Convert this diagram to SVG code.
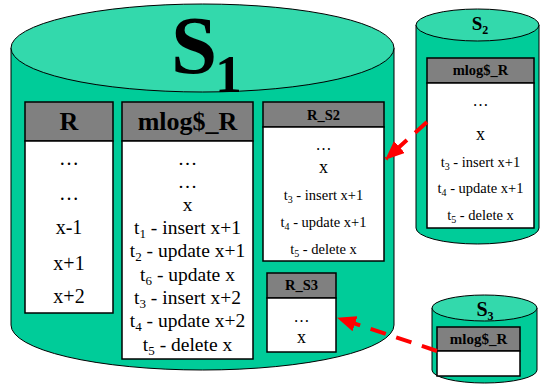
<svg xmlns="http://www.w3.org/2000/svg" width="540" height="385" viewBox="0 0 540 385">
<style>
.side{fill:#00CC99;stroke:#000;stroke-width:1}
.top{fill:#33D9AC;stroke:#000;stroke-width:1}
.hd{fill:#808080;stroke:#000;stroke-width:1.5}
.bd{fill:#fff;stroke:#000;stroke-width:1.5}
text{font-family:"Liberation Serif","Times New Roman",serif;fill:#000;text-anchor:middle}
.b{font-weight:bold}
.arrow{fill:none;stroke:#FF0000;stroke-width:4;stroke-dasharray:16 11;marker-end:url(#ah)}
</style>
<defs>
<marker id="ah" markerUnits="userSpaceOnUse" markerWidth="20" markerHeight="16" refX="18" refY="8" orient="auto">
<path d="M0,0 L19,8 L0,16 Z" fill="#FF0000"/>
</marker>
</defs>
<rect width="540" height="385" fill="#fff"/>

<g id="S1">
<path class="side" d="M11,48 L11,325 A191.5,45 0 0 0 394,325 L394,48 Z"/>
<ellipse class="top" cx="202.5" cy="48" rx="191.5" ry="44"/>
<text class="b" x="171" y="73" font-size="83" style="text-anchor:start">S<tspan font-size="53" dx="-2" dy="19">1</tspan></text>
</g>

<g id="R">
<rect class="hd" x="25" y="102" width="88" height="39"/>
<rect class="bd" x="25" y="141" width="88" height="172"/>
<text class="b" x="69" y="130" font-size="26">R</text>
<text x="69" y="165" font-size="20">…</text>
<text x="69" y="200" font-size="20">…</text>
<text x="69" y="234" font-size="20">x-1</text>
<text x="69" y="270" font-size="20">x+1</text>
<text x="69" y="303" font-size="20">x+2</text>
</g>

<g id="mlog_R">
<rect class="hd" x="122" y="102" width="131" height="39"/>
<rect class="bd" x="122" y="141" width="131" height="218"/>
<text class="b" x="187.5" y="130" font-size="26">mlog$_R</text>
<text x="187.5" y="165" font-size="19.5">…</text>
<text x="187.5" y="188" font-size="19.5">…</text>
<text x="187.5" y="211" font-size="19.5">x</text>
<text x="187.5" y="234" font-size="19.5">t<tspan font-size="13" dy="4">1</tspan><tspan dy="-4"> - insert x+1</tspan></text>
<text x="187.5" y="257" font-size="19.5">t<tspan font-size="13" dy="4">2</tspan><tspan dy="-4"> - update x+1</tspan></text>
<text x="187.5" y="281" font-size="19.5">t<tspan font-size="13" dy="4">6</tspan><tspan dy="-4"> - update x</tspan></text>
<text x="187.5" y="304" font-size="19.5">t<tspan font-size="13" dy="4">3</tspan><tspan dy="-4"> - insert x+2</tspan></text>
<text x="187.5" y="327" font-size="19.5">t<tspan font-size="13" dy="4">4</tspan><tspan dy="-4"> - update x+2</tspan></text>
<text x="187.5" y="351" font-size="19.5">t<tspan font-size="13" dy="4">5</tspan><tspan dy="-4"> - delete x</tspan></text>
</g>

<g id="R_S2">
<rect class="hd" x="263" y="102" width="121" height="25"/>
<rect class="bd" x="263" y="127" width="121" height="134"/>
<text class="b" x="323.5" y="120" font-size="14.5">R_S2</text>
<text x="323.5" y="150" font-size="16">…</text>
<text x="323.5" y="173" font-size="18">x</text>
<text x="323.5" y="200" font-size="14.5">t<tspan font-size="10" dy="3">3</tspan><tspan dy="-3"> - insert x+1</tspan></text>
<text x="323.5" y="227" font-size="14.5">t<tspan font-size="10" dy="3">4</tspan><tspan dy="-3"> - update x+1</tspan></text>
<text x="323.5" y="254" font-size="14.5">t<tspan font-size="10" dy="3">5</tspan><tspan dy="-3"> - delete x</tspan></text>
</g>

<g id="R_S3">
<rect class="hd" x="267" y="273" width="69" height="25"/>
<rect class="bd" x="267" y="298" width="69" height="54"/>
<text class="b" x="301.5" y="290" font-size="14.5">R_S3</text>
<text x="301.5" y="322" font-size="16">…</text>
<text x="301.5" y="343" font-size="18">x</text>
</g>

<g id="S2">
<path class="side" d="M416,25 L416,228 A61.5,16 0 0 0 539,228 L539,25 Z"/>
<ellipse class="top" cx="477.5" cy="25" rx="61.5" ry="16"/>
<text class="b" x="480" y="30" font-size="19">S<tspan font-size="12" dy="4">2</tspan></text>
<rect class="hd" x="427" y="58" width="107" height="25"/>
<rect class="bd" x="427" y="83" width="107" height="145"/>
<text class="b" x="480.5" y="75" font-size="14.5">mlog$_R</text>
<text x="480.5" y="106" font-size="16">…</text>
<text x="480.5" y="140" font-size="18">x</text>
<text x="480.5" y="167" font-size="14.5">t<tspan font-size="10" dy="3">3</tspan><tspan dy="-3"> - insert x+1</tspan></text>
<text x="480.5" y="193" font-size="14.5">t<tspan font-size="10" dy="3">4</tspan><tspan dy="-3"> - update x+1</tspan></text>
<text x="480.5" y="220" font-size="14.5">t<tspan font-size="10" dy="3">5</tspan><tspan dy="-3"> - delete x</tspan></text>
</g>

<g id="S3">
<path class="side" d="M432,308 L432,370 A52.5,13 0 0 0 537,370 L537,308 Z"/>
<ellipse class="top" cx="484.5" cy="308" rx="52.5" ry="13"/>
<text class="b" x="485" y="316" font-size="20">S<tspan font-size="12" dy="4">3</tspan></text>
<rect class="hd" x="437" y="327" width="83" height="24"/>
<rect class="bd" x="437" y="351" width="83" height="25"/>
<text class="b" x="478.5" y="344" font-size="15">mlog$_R</text>
</g>

<g id="connectors">
<path class="arrow" d="M427,122 L386,159"/>
<path class="arrow" d="M437,351 L338,318"/>
</g>
</svg>
